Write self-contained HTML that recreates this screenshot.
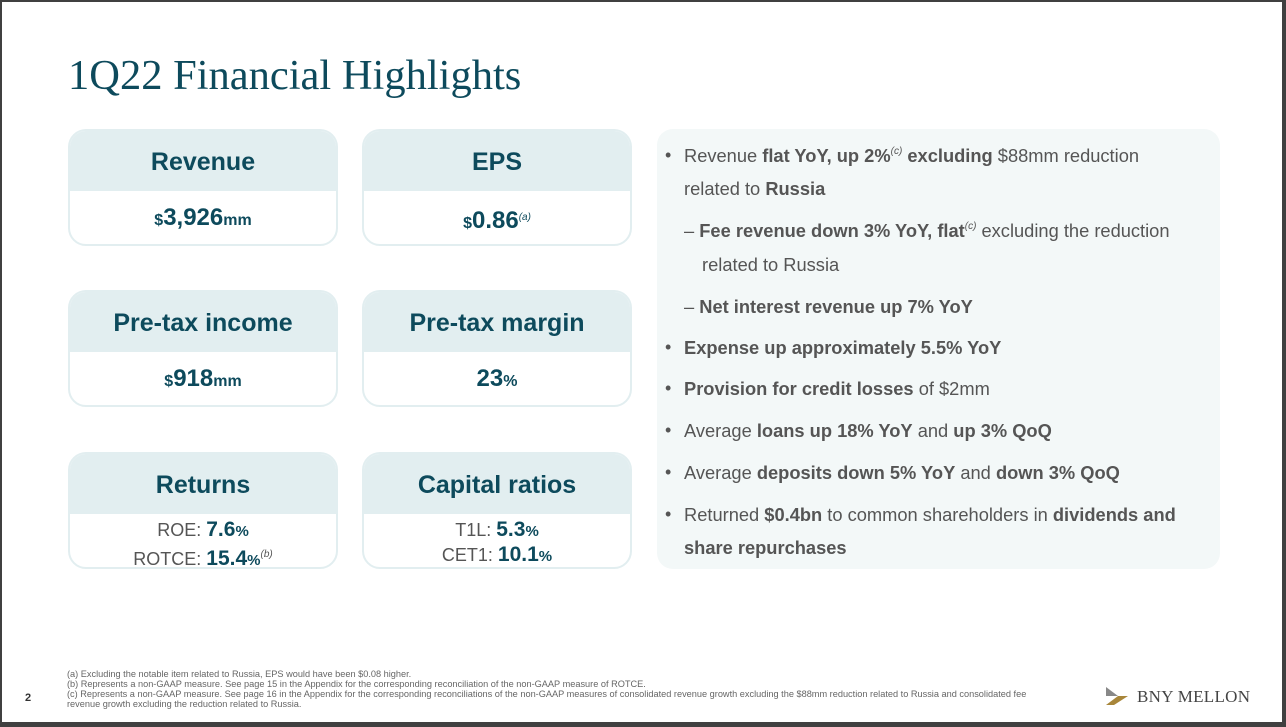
<!DOCTYPE html>
<html><head><meta charset="utf-8"><style>
*{margin:0;padding:0;box-sizing:border-box}
body{width:1286px;height:727px;background:#fff;position:relative;overflow:hidden;font-family:"Liberation Sans",sans-serif}
.frame{position:absolute;left:0;top:0;width:1286px;height:727px;border-style:solid;border-color:#404040;border-width:2px 4px 5px 2px;pointer-events:none}
h1{position:absolute;left:68px;top:52px;font-family:"Liberation Serif",serif;font-weight:normal;font-size:42.5px;color:#0d4a5c;line-height:48px}
.card{position:absolute;width:270px;height:117px;border:2px solid #e2eef0;border-radius:18px;overflow:hidden;background:#fff}
.card .hd{height:60px;background:#e2eef0;color:#0d4a5c;font-weight:bold;font-size:25px;text-align:center;line-height:62px}
.card .bd{text-align:center;color:#0d4a5c;font-weight:bold;font-size:24px;line-height:54px}
.sm{font-size:16px}
.card .bd2{text-align:center;color:#555;font-size:18px;padding-top:3px}
.card .bd2 div{height:25px;line-height:25px}
.card .bd2 b{color:#0d4a5c;font-size:21px}
.card .bd2 b span{font-size:15px}
sup{font-size:10px;font-style:italic;font-weight:normal;vertical-align:8px}
.panel{position:absolute;left:657px;top:129px;width:563px;height:440px;background:#f3f8f8;border-radius:16px}
.l{position:absolute;font-size:18.3px;color:#555;white-space:nowrap}
.l b{color:#555}
.dot{position:absolute;left:665px;font-size:18px;color:#555}
.fn{position:absolute;left:67px;font-size:9.2px;color:#666;line-height:10px;top:669px;white-space:nowrap}
</style></head><body>
<h1>1Q22 Financial Highlights</h1>
<div class="card" style="left:68px;top:129px"><div class="hd">Revenue</div><div class="bd"><span class="sm">$</span>3,926<span class="sm">mm</span></div></div>
<div class="card" style="left:362px;top:129px"><div class="hd">EPS</div><div class="bd"><span class="sm">$</span>0.86<sup>(a)</sup></div></div>
<div class="card" style="left:68px;top:290px"><div class="hd">Pre-tax income</div><div class="bd"><span class="sm">$</span>918<span class="sm">mm</span></div></div>
<div class="card" style="left:362px;top:290px"><div class="hd">Pre-tax margin</div><div class="bd">23<span class="sm">%</span></div></div>
<div class="card" style="left:68px;top:452px"><div class="hd">Returns</div><div class="bd2"><div>ROE: <b>7.6<span>%</span></b></div><div>ROTCE: <b>15.4<span>%</span></b><sup>(b)</sup></div></div></div>
<div class="card" style="left:362px;top:452px"><div class="hd">Capital ratios</div><div class="bd2"><div>T1L: <b>5.3<span>%</span></b></div><div>CET1: <b>10.1<span>%</span></b></div></div></div>
<div class="panel"></div>
<div class="dot" style="top:145px">•</div>
<div class="l" style="left:684px;top:145px">Revenue <b>flat YoY, up 2%<sup>(c)</sup> excluding</b> $88mm reduction</div>
<div class="l" style="left:684px;top:178px">related to <b>Russia</b></div>
<div class="l" style="left:684px;top:220px">– <b>Fee revenue down 3% YoY, flat<sup>(c)</sup></b> excluding the reduction</div>
<div class="l" style="left:702px;top:254px">related to Russia</div>
<div class="l" style="left:684px;top:296px">– <b>Net interest revenue up 7% YoY</b></div>
<div class="dot" style="top:337px">•</div><div class="l" style="left:684px;top:337px"><b>Expense up approximately 5.5% YoY</b></div>
<div class="dot" style="top:378px">•</div><div class="l" style="left:684px;top:378px"><b>Provision for credit losses</b> of $2mm</div>
<div class="dot" style="top:420px">•</div><div class="l" style="left:684px;top:420px">Average <b>loans up 18% YoY</b> and <b>up 3% QoQ</b></div>
<div class="dot" style="top:462px">•</div><div class="l" style="left:684px;top:462px">Average <b>deposits down 5% YoY</b> and <b>down 3% QoQ</b></div>
<div class="dot" style="top:504px">•</div><div class="l" style="left:684px;top:504px">Returned <b>$0.4bn</b> to common shareholders in <b>dividends and</b></div>
<div class="l" style="left:684px;top:537px"><b>share repurchases</b></div>
<div style="position:absolute;left:25px;top:692px;font-size:11px;font-weight:bold;color:#333">2</div>
<div class="fn">(a) Excluding the notable item related to Russia, EPS would have been $0.08 higher.<br>(b) Represents a non-GAAP measure. See page 15 in the Appendix for the corresponding reconciliation of the non-GAAP measure of ROTCE.<br>(c) Represents a non-GAAP measure. See page 16 in the Appendix for the corresponding reconciliations of the non-GAAP measures of consolidated revenue growth excluding the $88mm reduction related to Russia and consolidated fee<br>revenue growth excluding the reduction related to Russia.</div>
<svg style="position:absolute;left:1106px;top:687px" width="22" height="20"><polygon points="0,0 12,9 0,9" fill="#888"/><polygon points="0,18 12,9 22,9 8,18" fill="#a8863a"/></svg>
<div style="position:absolute;left:1137px;top:687px;font-family:'Liberation Serif',serif;font-size:17px;color:#444;letter-spacing:0.3px">BNY MELLON</div>
<div class="frame"></div>
</body></html>
